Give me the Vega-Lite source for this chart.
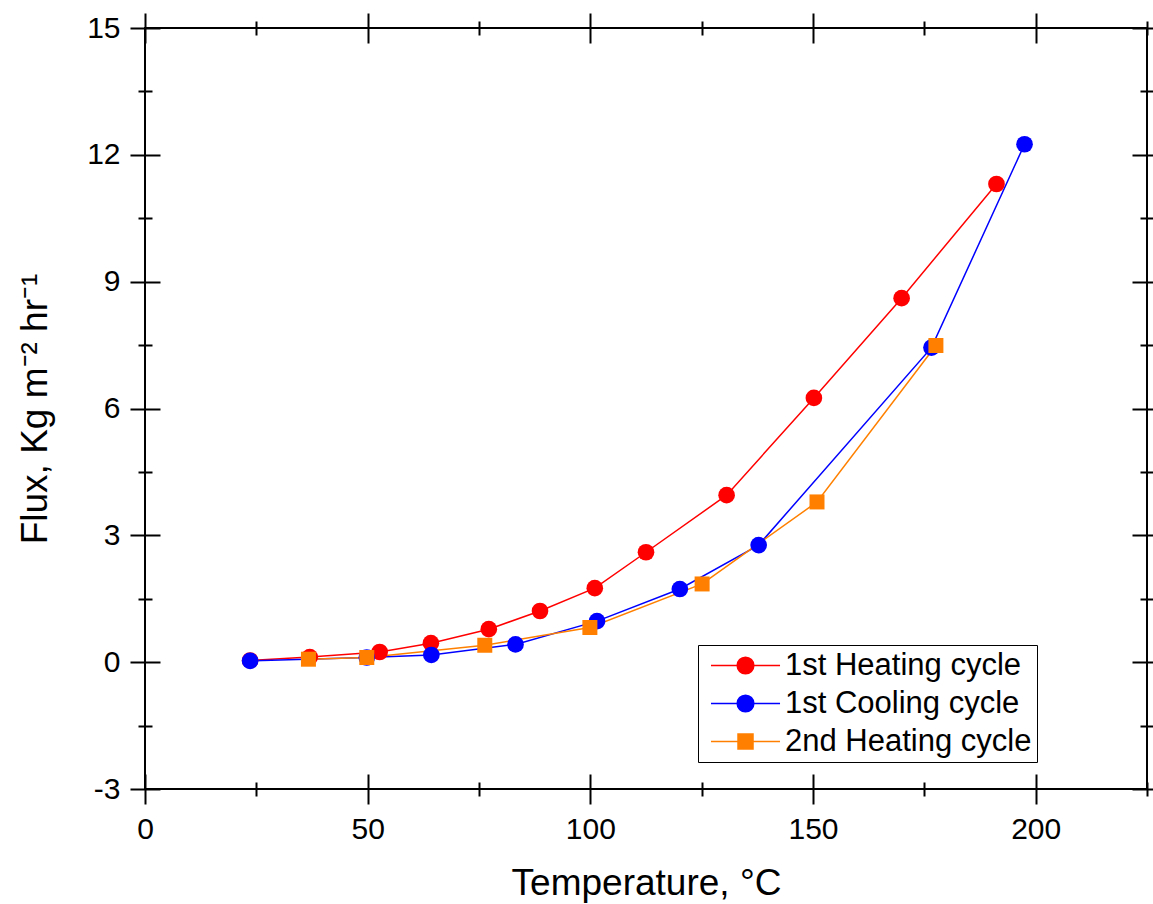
{
  "$schema": "https://vega.github.io/schema/vega-lite/v6.json",
  "width": 1002,
  "height": 761,
  "autosize": {"type": "none"},
  "padding": {"left": 145, "top": 28, "right": 6, "bottom": 115},
  "background": "white",
  "config": {
    "font": "Liberation Sans",
    "view": {"stroke": "black", "strokeWidth": 2},
    "axis": {
      "domain": false,
      "grid": false,
      "tickColor": "black",
      "tickWidth": 2,
      "labelColor": "black",
      "titleColor": "black",
      "labelFont": "Liberation Sans",
      "titleFont": "Liberation Sans",
      "titleFontWeight": "normal",
      "labelFontSize": 30,
      "titleFontSize": 37,
      "labelFlush": false,
      "labelOverlap": false,
      "labelBound": false
    }
  },
  "data": {
    "values": [
      {"series": "1st Heating cycle", "T": 23.6, "flux": 0.04},
      {"series": "1st Heating cycle", "T": 37.0, "flux": 0.12},
      {"series": "1st Heating cycle", "T": 52.7, "flux": 0.24},
      {"series": "1st Heating cycle", "T": 64.2, "flux": 0.45},
      {"series": "1st Heating cycle", "T": 77.2, "flux": 0.78},
      {"series": "1st Heating cycle", "T": 88.7, "flux": 1.21},
      {"series": "1st Heating cycle", "T": 101.0, "flux": 1.75},
      {"series": "1st Heating cycle", "T": 112.5, "flux": 2.60},
      {"series": "1st Heating cycle", "T": 130.6, "flux": 3.95},
      {"series": "1st Heating cycle", "T": 150.2, "flux": 6.25},
      {"series": "1st Heating cycle", "T": 169.9, "flux": 8.61},
      {"series": "1st Heating cycle", "T": 191.2, "flux": 11.31},
      {"series": "1st Cooling cycle", "T": 23.6, "flux": 0.03},
      {"series": "1st Cooling cycle", "T": 49.8, "flux": 0.11},
      {"series": "1st Cooling cycle", "T": 64.3, "flux": 0.17},
      {"series": "1st Cooling cycle", "T": 83.2, "flux": 0.42},
      {"series": "1st Cooling cycle", "T": 101.5, "flux": 0.97},
      {"series": "1st Cooling cycle", "T": 120.1, "flux": 1.73},
      {"series": "1st Cooling cycle", "T": 137.8, "flux": 2.77},
      {"series": "1st Cooling cycle", "T": 176.6, "flux": 7.44},
      {"series": "1st Cooling cycle", "T": 197.5, "flux": 12.25},
      {"series": "2nd Heating cycle", "T": 36.7, "flux": 0.07},
      {"series": "2nd Heating cycle", "T": 49.8, "flux": 0.11},
      {"series": "2nd Heating cycle", "T": 76.3, "flux": 0.40},
      {"series": "2nd Heating cycle", "T": 99.9, "flux": 0.82},
      {"series": "2nd Heating cycle", "T": 125.1, "flux": 1.85},
      {"series": "2nd Heating cycle", "T": 150.9, "flux": 3.79},
      {"series": "2nd Heating cycle", "T": 177.6, "flux": 7.49}
    ]
  },
  "resolve": {"axis": {"x": "independent", "y": "independent"}},
  "layer": [
    {
      "mark": {"type": "line", "strokeWidth": 1.5},
      "encoding": {
        "x": {
          "field": "T", "type": "quantitative",
          "scale": {"domain": [0, 225], "nice": false, "zero": false},
          "axis": {
            "orient": "bottom", "offset": -15, "tickSize": 30,
            "values": [0, 50, 100, 150, 200],
            "labelPadding": 10,
            "title": "Temperature, °C",
            "titleY": 120, "titleBaseline": "alphabetic"
          }
        },
        "y": {
          "field": "flux", "type": "quantitative",
          "scale": {"domain": [-3, 15], "nice": false, "zero": false},
          "axis": {
            "orient": "left", "offset": -15, "tickSize": 30,
            "values": [-3, 0, 3, 6, 9, 12, 15],
            "labelPadding": 10,
            "labelExpr": "'' + datum.value",
            "title": "Flux, Kg m⁻² hr⁻¹",
            "titleX": -114, "titleBaseline": "alphabetic"
          }
        },
        "color": {
          "field": "series", "type": "nominal",
          "scale": {
            "domain": ["1st Heating cycle", "1st Cooling cycle", "2nd Heating cycle"],
            "range": ["#FF0000", "#0000FF", "#FF8000"]
          },
          "legend": {
            "title": null,
            "orient": "none",
            "legendX": 553,
            "legendY": 617,
            "padding": 5,
            "fillColor": "white",
            "strokeColor": "black",
            "labelFontSize": 31,
            "labelFont": "Liberation Sans",
            "labelColor": "black",
            "labelOffset": 51,
            "rowPadding": 6,
            "symbolSize": 278,
            "symbolStrokeWidth": 1.5,
            "symbolOpacity": 1,
            "labelLimit": 400,
            "encode": {
              "symbols": {
                "update": {
                  "shape": {"signal": "datum.value === '2nd Heating cycle' ? 'M-0.9,0H7.38M2.34,-0.9H4.14V0.9H2.34Z' : 'M-0.9,0H7.38M4.24,0A1,1,0,1,1,2.24,0A1,1,0,1,1,4.24,0Z'"},
                  "fill": {"scale": "color", "field": "value"},
                  "stroke": {"scale": "color", "field": "value"}
                }
              }
            }
          }
        }
      }
    },
    {
      "transform": [{"filter": "datum.series !== '2nd Heating cycle'"}],
      "mark": {"type": "point", "shape": "circle", "filled": true, "size": 278, "opacity": 1},
      "encoding": {
        "x": {
          "field": "T", "type": "quantitative",
          "scale": {"domain": [0, 225], "nice": false, "zero": false},
          "axis": {"orient": "bottom", "offset": -7, "tickSize": 14, "values": [25, 75, 125, 175, 225], "labels": false, "title": null}
        },
        "y": {
          "field": "flux", "type": "quantitative",
          "scale": {"domain": [-3, 15], "nice": false, "zero": false},
          "axis": {"orient": "left", "offset": -7, "tickSize": 14, "values": [-1.5, 1.5, 4.5, 7.5, 10.5, 13.5], "labels": false, "title": null}
        },
        "color": {"field": "series", "type": "nominal"}
      }
    },
    {
      "transform": [{"filter": "datum.series === '2nd Heating cycle'"}],
      "mark": {"type": "point", "shape": "square", "filled": true, "size": 225, "opacity": 1},
      "encoding": {
        "x": {
          "field": "T", "type": "quantitative",
          "scale": {"domain": [0, 225], "nice": false, "zero": false},
          "axis": {"orient": "top", "offset": -15, "tickSize": 30, "values": [0, 50, 100, 150, 200], "labels": false, "title": null}
        },
        "y": {
          "field": "flux", "type": "quantitative",
          "scale": {"domain": [-3, 15], "nice": false, "zero": false},
          "axis": {"orient": "right", "offset": -15, "tickSize": 30, "values": [-3, 0, 3, 6, 9, 12, 15], "labels": false, "title": null}
        },
        "color": {"field": "series", "type": "nominal"}
      }
    },
    {
      "mark": {"type": "point", "filled": true, "size": 4, "opacity": 0},
      "encoding": {
        "x": {
          "field": "T", "type": "quantitative",
          "scale": {"domain": [0, 225], "nice": false, "zero": false},
          "axis": {"orient": "top", "offset": -7, "tickSize": 14, "values": [25, 75, 125, 175, 225], "labels": false, "title": null}
        },
        "y": {
          "field": "flux", "type": "quantitative",
          "scale": {"domain": [-3, 15], "nice": false, "zero": false},
          "axis": {"orient": "right", "offset": -7, "tickSize": 14, "values": [-1.5, 1.5, 4.5, 7.5, 10.5, 13.5], "labels": false, "title": null}
        }
      }
    }
  ]
}
